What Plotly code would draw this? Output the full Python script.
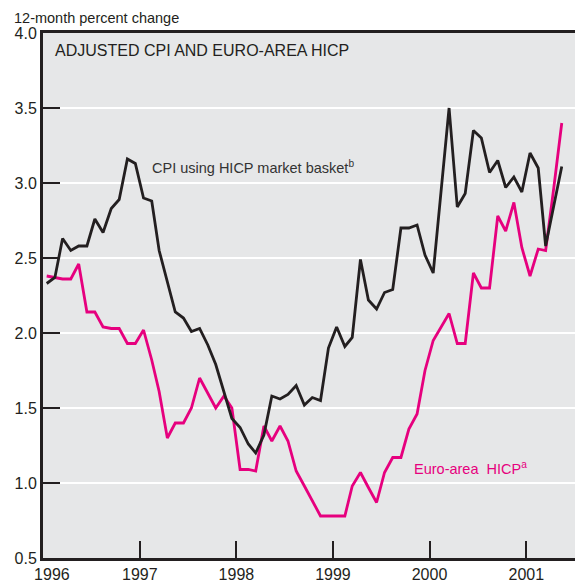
import pandas as pd
import plotly.graph_objects as go

# Monthly observations, January 1996 through May 2001
start_month = "1996-01-01"
cpi_hicp_basket = [2.33, 2.37, 2.63, 2.55, 2.58, 2.58, 2.76, 2.67, 2.83, 2.89, 3.16, 3.13,
                   2.90, 2.88, 2.55, 2.35, 2.14, 2.10, 2.01, 2.03, 1.92, 1.79, 1.60, 1.43,
                   1.37, 1.26, 1.20, 1.32, 1.58, 1.56, 1.59, 1.65, 1.52, 1.57, 1.55, 1.90,
                   2.04, 1.91, 1.97, 2.49, 2.22, 2.16, 2.27, 2.29, 2.70, 2.70, 2.72, 2.52,
                   2.40, 2.95, 3.50, 2.84, 2.93, 3.35, 3.30, 3.07, 3.15, 2.97, 3.04, 2.94,
                   3.20, 3.10, 2.58, 2.85, 3.11]
euro_hicp = [2.38, 2.37, 2.36, 2.36, 2.46, 2.14, 2.14, 2.04, 2.03, 2.03, 1.93, 1.93,
             2.02, 1.82, 1.61, 1.30, 1.40, 1.40, 1.50, 1.70, 1.60, 1.50, 1.58, 1.50,
             1.09, 1.09, 1.08, 1.38, 1.28, 1.38, 1.28, 1.08, 0.98, 0.88, 0.78, 0.78,
             0.78, 0.78, 0.98, 1.07, 0.97, 0.87, 1.07, 1.17, 1.17, 1.36, 1.46, 1.75,
             1.95, 2.04, 2.13, 1.93, 1.93, 2.40, 2.30, 2.30, 2.78, 2.68, 2.87, 2.57,
             2.38, 2.56, 2.55, 2.97, 3.40]
year_ticks = ["1996-01-01", "1997-01-01", "1998-01-01", "1999-01-01", "2000-01-01", "2001-01-01"]
year_labels = ["\u00a0\u00a0\u00a0\u00a01996", "1997", "1998", "1999", "2000", "2001"]
y_ticks = [0.5, 1.0, 1.5, 2.0, 2.5, 3.0, 3.5, 4.0]
y_labels = ["0.5", "1.0", "1.5", "2.0", "2.5", "3.0", "3.5", "4.0"]

months = pd.date_range(start=start_month, periods=len(cpi_hicp_basket), freq="MS") + pd.Timedelta(days=14)

BLACK = "#231f20"
MAGENTA = "#e6007e"
FONT = "Liberation Sans, Arial, sans-serif"

fig = go.Figure()
fig.add_trace(go.Scatter(x=months, y=euro_hicp, mode="lines",
                         line=dict(color=MAGENTA, width=2.8), hoverinfo="skip"))
fig.add_trace(go.Scatter(x=months, y=cpi_hicp_basket, mode="lines",
                         line=dict(color=BLACK, width=2.8), hoverinfo="skip"))

fig.update_layout(
    width=575, height=585,
    margin=dict(l=43, r=0, t=33, b=27),
    paper_bgcolor="white",
    plot_bgcolor="#e6e7e8",
    showlegend=False,
    xaxis=dict(
        type="date",
        range=["1996-01-01", "2001-07-04"],
        tickvals=year_ticks, ticktext=year_labels,
        ticks="inside", ticklen=17, tickwidth=2.2, tickcolor=BLACK,
        showline=True, linecolor=BLACK, linewidth=3, mirror=True,
        showgrid=False, zeroline=False,
        tickfont=dict(family=FONT, size=16, color=BLACK),
    ),
    yaxis=dict(
        range=[0.5, 4.0],
        tickvals=y_ticks, ticktext=y_labels,
        ticks="inside", ticklen=17, tickwidth=2.2, tickcolor=BLACK,
        showline=True, linecolor=BLACK, linewidth=3,
        showgrid=True, gridcolor="white", gridwidth=2,
        zeroline=False,
        tickfont=dict(family=FONT, size=16, color=BLACK),
    ),
    annotations=[
        dict(text="12-month percent change", xref="paper", yref="paper",
             x=-0.0583, y=1.028, xanchor="left", yanchor="middle", showarrow=False,
             font=dict(family=FONT, size=14.5, color=BLACK)),
        dict(text="ADJUSTED CPI AND EURO-AREA HICP", xref="paper", yref="paper",
             x=0.0188, y=0.966, xanchor="left", yanchor="middle", showarrow=False,
             font=dict(family=FONT, size=16, color=BLACK)),
        dict(text="CPI using HICP market basket<sup>b</sup>", xref="paper", yref="paper",
             x=0.2011, y=0.744, xanchor="left", yanchor="middle", showarrow=False,
             font=dict(family=FONT, size=14.5, color="#333333")),
        dict(text="Euro-area\u00a0 HICP<sup>a</sup>", xref="paper", yref="paper",
             x=0.6936, y=0.171, xanchor="left", yanchor="middle", showarrow=False,
             font=dict(family=FONT, size=14.5, color=MAGENTA)),
    ],
)

fig.write_html("out.html", config={"displayModeBar": False},
               post_script="document.body.style.margin='0px';")
